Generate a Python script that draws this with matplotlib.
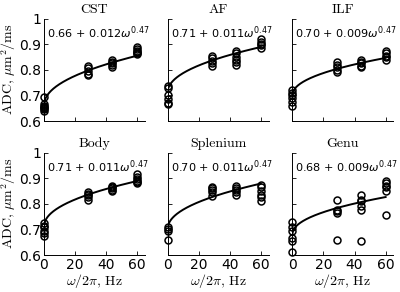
import numpy as np
import matplotlib
matplotlib.use('Agg')
import matplotlib.pyplot as plt

plt.rcParams['mathtext.fontset'] = 'cm'

# frequencies (Hz)
freqs = [0, 28.5, 44, 60]

titles = ["CST", "AF", "ILF", "Body", "Splenium", "Genu"]
fit_a = [0.66, 0.71, 0.70, 0.71, 0.70, 0.68]
fit_b = [0.012, 0.011, 0.009, 0.011, 0.011, 0.009]
fit_labels = ["0.66 + 0.012", "0.71 + 0.011", "0.70 + 0.009",
              "0.71 + 0.011", "0.70 + 0.011", "0.68 + 0.009"]
fit_exp = 0.47

# ADC per region, one list per frequency
cst = [[0.695, 0.665, 0.66, 0.655, 0.65, 0.645, 0.64],
       [0.815, 0.805, 0.795, 0.785, 0.78],
       [0.84, 0.83, 0.825, 0.82, 0.81],
       [0.89, 0.88, 0.875, 0.87, 0.865, 0.86]]
af = [[0.735, 0.73, 0.70, 0.685, 0.67, 0.665],
      [0.855, 0.845, 0.835, 0.825, 0.815],
      [0.875, 0.865, 0.85, 0.84, 0.83, 0.82],
      [0.92, 0.91, 0.90, 0.895, 0.885]]
ilf = [[0.72, 0.71, 0.70, 0.69, 0.675, 0.66],
       [0.83, 0.82, 0.81, 0.80, 0.79],
       [0.84, 0.83, 0.825, 0.815, 0.81],
       [0.875, 0.865, 0.855, 0.85, 0.84]]
body = [[0.725, 0.715, 0.71, 0.695, 0.685, 0.675],
        [0.845, 0.84, 0.835, 0.825, 0.815],
        [0.87, 0.865, 0.86, 0.855, 0.85],
        [0.915, 0.905, 0.895, 0.89, 0.885, 0.88]]
splenium = [[0.71, 0.70, 0.695, 0.66],
            [0.865, 0.86, 0.855, 0.845, 0.83],
            [0.87, 0.86, 0.855, 0.845, 0.835],
            [0.875, 0.865, 0.85, 0.835, 0.825, 0.81]]
genu = [[0.73, 0.71, 0.695, 0.665, 0.655, 0.61],
        [0.815, 0.775, 0.77, 0.765, 0.66],
        [0.835, 0.815, 0.81, 0.79, 0.775, 0.655],
        [0.89, 0.88, 0.87, 0.865, 0.85, 0.755]]
data = [cst, af, ilf, body, splenium, genu]

fig = plt.figure(figsize=(4, 2.92), dpi=100)
lefts = [0.11, 0.419, 0.731]
bottoms = [0.5856, 0.1267]
w, h = 0.2525, 0.351

f_fine = np.linspace(0, 60, 200)
for k in range(6):
    r, c = divmod(k, 3)
    ax = fig.add_axes([lefts[c], bottoms[r], w, h])
    for f, vals in zip(freqs, data[k]):
        ax.plot([f] * len(vals), vals, 'o', mfc='none', mec='black',
                ms=5, mew=1.1, clip_on=False)
    ax.plot(f_fine, fit_a[k] + fit_b[k] * (2 * np.pi * f_fine) ** fit_exp,
            color='black', lw=1.4)
    ax.set_xlim(0, 65)
    ax.set_ylim(0.6, 1.0)
    ax.set_xticks([0, 20, 40, 60])
    ax.set_yticks([0.6, 0.7, 0.8, 0.9, 1.0])
    ax.set_yticklabels(["0.6", "0.7", "0.8", "0.9", "1"])
    ax.tick_params(direction='in', length=3, width=0.6, labelsize=10, pad=2)
    for s in ['top', 'right']:
        ax.spines[s].set_visible(False)
    for s in ['left', 'bottom']:
        ax.spines[s].set_linewidth(0.7)
    if c != 0:
        ax.set_yticklabels([])
    else:
        ax.set_ylabel(r'ADC, $\mu\mathrm{m}^2/\mathrm{ms}$', fontsize=10,
                      family='cmr10', labelpad=1)
    if r == 0:
        ax.set_xticklabels([])
    else:
        ax.set_xlabel(r'$\omega/2\pi$, Hz', fontsize=10, family='cmr10', labelpad=0)
    ax.set_title(titles[k], fontsize=10, family='cmr10', pad=4)
    ax.text(0.03, 0.86, fit_labels[k] + r'$\omega^{0.47}$',
            transform=ax.transAxes, fontsize=8.1, va='center', ha='left',
            math_fontfamily='dejavusans', clip_on=False)

fig.savefig("out.png", dpi=100)
